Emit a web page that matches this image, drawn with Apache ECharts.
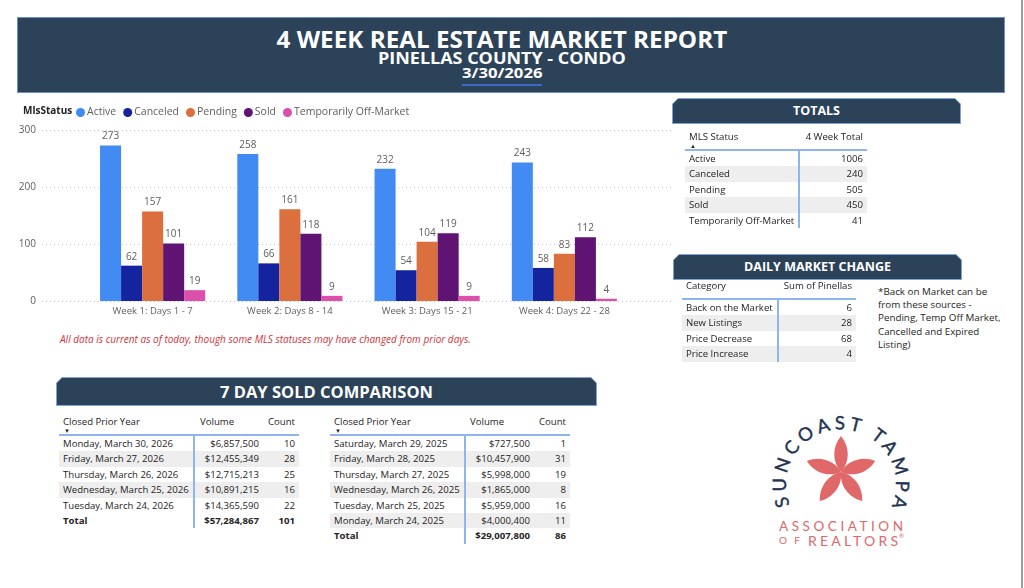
<!DOCTYPE html>
<html>
<head>
<meta charset="utf-8">
<script src="https://cdn.jsdelivr.net/npm/echarts@6/dist/echarts.min.js"></script>
<style>
body { margin: 0; width: 1024px; height: 588px; background: #fff; position: relative; overflow: hidden;
  font-family: "Open Sans", "Noto Sans", sans-serif; color: #252423; }
.abs { position: absolute; }
#edge { left: 1021px; top: 0; width: 2px; height: 588px; background: #9c9c9c; }
#banner { left: 17px; top: 17px; width: 988px; height: 76px; background: #2c4259; border: 1px solid #6b91cc; box-sizing: border-box; }
.btxt { position: absolute; left: 0; width: 1004px; text-align: center; color: #fff; font-weight: 700; white-space: nowrap; line-height: 1; }
.btxt span { display: inline-block; transform-origin: center; }
#dateline { left: 462px; top: 84px; width: 80px; height: 2px; background: #3a6bc4; }
.phead { position: absolute; background: #7fa3d6;
  clip-path: polygon(6px 0, calc(100% - 6px) 0, 100% 6px, 100% 100%, 0 100%, 0 6px); }
.phead div { position: absolute; left: 1px; top: 1px; right: 1px; bottom: 1px; background: #2c4259; color: #fff;
  font-weight: 700; text-align: center; white-space: nowrap;
  clip-path: polygon(5px 0, calc(100% - 5px) 0, 100% 5px, 100% 100%, 0 100%, 0 5px); }
.tbl { position: absolute; font-size: 9.6px; }
.thead { position: relative; border-bottom: 2px solid #8db6ef; box-sizing: border-box; }
.th { position: absolute; top: 0; white-space: nowrap; line-height: 12px; }
.arrow { position: absolute; font-size: 6px; line-height: 6px; }
.tr { position: relative; display: flex; white-space: nowrap; }
.tr.gray { background: #eeeeee; }
.td { box-sizing: border-box; padding: 0 4px; overflow: visible; }
.td.first { border-right: 2px solid #8db6ef; }
.tr.total { font-weight: 700; }
#note { left: 60px; top: 332px; font-size: 10px; font-style: italic; color: #d1343a; white-space: nowrap; }
#side { left: 878px; top: 285px; font-size: 9.8px; line-height: 13.2px; white-space: nowrap; }
</style>
</head>
<body>
<div id="edge" class="abs"></div>
<div id="banner" class="abs"></div>
<div class="btxt" style="top:28px;font-size:23px"><span id="t1">4 WEEK REAL ESTATE MARKET REPORT</span></div>
<div class="btxt" style="top:51px;font-size:15.5px"><span id="t2">PINELLAS COUNTY - CONDO</span></div>
<div class="btxt" style="top:65px;font-size:15px"><span id="t3">3/30/2026</span></div>
<div id="dateline" class="abs"></div>

<div id="chart" class="abs" style="left:0;top:95px;width:680px;height:235px"></div>
<div id="note" class="abs">All data is current as of today, though some MLS statuses may have changed from prior days.</div>

<div class="phead" style="left:672px;top:98px;width:289px;height:26px"><div style="font-size:12.5px;line-height:24px">TOTALS</div></div>
<div class="phead" style="left:673px;top:254px;width:289px;height:26px"><div style="font-size:12.5px;line-height:24px">DAILY MARKET CHANGE</div></div>
<div class="phead" style="left:56px;top:377px;width:541px;height:29px"><div style="font-size:16.5px;line-height:27px">7 DAY SOLD COMPARISON</div></div>

<div id="side" class="abs">*Back on Market can be<br>from these sources -<br>Pending, Temp Off Market,<br>Cancelled and Expired<br>Listing)</div>

<svg class="abs" style="left:760px;top:395px" width="180" height="165" viewBox="0 0 180 165">
  <defs><path id="arc" d="M30,110 A55,55 0 1 1 132,110"></path></defs>
  <g fill="#e06868" transform="translate(81,77)">
    <path d="M0,0 C9,-10 9,-25 0,-36 C-9,-25 -9,-10 0,0 Z" transform="rotate(0)"></path>
    <path d="M0,0 C9,-10 9,-25 0,-36 C-9,-25 -9,-10 0,0 Z" transform="rotate(72)"></path>
    <path d="M0,0 C9,-10 9,-25 0,-36 C-9,-25 -9,-10 0,0 Z" transform="rotate(144)"></path>
    <path d="M0,0 C9,-10 9,-25 0,-36 C-9,-25 -9,-10 0,0 Z" transform="rotate(216)"></path>
    <path d="M0,0 C9,-10 9,-25 0,-36 C-9,-25 -9,-10 0,0 Z" transform="rotate(288)"></path>
  </g>
  <text font-family="Lato, 'Open Sans', sans-serif" font-size="18.5" fill="#1f3352" stroke="#1f3352" stroke-width="0.4">
    <textPath href="#arc" textLength="216" lengthAdjust="spacing">SUNCOAST TAMPA</textPath>
  </text>
  <text x="19" y="136" font-family="Lato, 'Open Sans', sans-serif" font-size="13.5" fill="#e06868" textLength="124" lengthAdjust="spacing">ASSOCIATION</text>
  <text x="19" y="149" font-family="Lato, 'Open Sans', sans-serif" font-size="10" fill="#e06868" textLength="21" lengthAdjust="spacing">OF</text>
  <text x="48" y="151" font-family="Lato, 'Open Sans', sans-serif" font-size="14" fill="#e06868" textLength="90" lengthAdjust="spacing">REALTORS</text>
  <text x="139" y="143" font-family="Lato, 'Open Sans', sans-serif" font-size="6" fill="#e06868">®</text>
</svg>

<script>
// weekly counts by MLS status
var weeks = ['Week 1: Days 1 - 7', 'Week 2: Days 8 - 14', 'Week 3: Days 15 - 21', 'Week 4: Days 22 - 28']
var statuses = ['Active', 'Canceled', 'Pending', 'Sold', 'Temporarily Off-Market']
var colors = ['#418bf3', '#14239e', '#dc6f3e', '#5f1372', '#dc4fac']
var active = [273, 258, 232, 243]
var canceled = [62, 66, 54, 58]
var pending = [157, 161, 104, 83]
var sold = [101, 118, 119, 112]
var tempOff = [19, 9, 9, 4]
var yTicks = [0, 100, 200, 300]

// totals table
var totals = [1006, 240, 505, 450, 41]

// daily market change
var dailyCats = ['Back on the Market', 'New Listings', 'Price Decrease', 'Price Increase']
var dailyVals = [6, 28, 68, 4]

// 7 day sold comparison
var dates2026 = ['Monday, March 30, 2026', 'Friday, March 27, 2026', 'Thursday, March 26, 2026', 'Wednesday, March 25, 2026', 'Tuesday, March 24, 2026']
var volume2026 = ['$6,857,500', '$12,455,349', '$12,715,213', '$10,891,215', '$14,365,590']
var count2026 = [10, 28, 25, 16, 22]
var total2026 = ['$57,284,867', 101]
var dates2025 = ['Saturday, March 29, 2025', 'Friday, March 28, 2025', 'Thursday, March 27, 2025', 'Wednesday, March 26, 2025', 'Tuesday, March 25, 2025', 'Monday, March 24, 2025']
var volume2025 = ['$727,500', '$10,457,900', '$5,998,000', '$1,865,000', '$5,959,000', '$4,000,400']
var count2025 = [1, 31, 19, 8, 16, 11]
var total2025 = ['$29,007,800', 86]

// squeeze banner text to the widths in the report
function fit(id, w) {
  var el = document.getElementById(id)
  el.style.transform = 'scaleX(' + (w / el.offsetWidth) + ')'
}
fit('t1', 451)
fit('t2', 248)
fit('t3', 80)

function table(o) {
  var box = document.createElement('div')
  box.className = 'tbl'
  box.style.left = o.left + 'px'
  box.style.top = o.top + 'px'
  var full = o.widths.reduce(function (a, b) { return a + b }, 0)
  box.style.width = full + 'px'
  var head = document.createElement('div')
  head.className = 'thead'
  head.style.height = o.headH + 'px'
  var x = 0
  o.head.forEach(function (t, i) {
    var c = document.createElement('div')
    c.className = 'th'
    c.textContent = t
    c.style.top = o.headPad + 'px'
    if (o.headAlign[i] === 'right') c.style.right = (full - x - o.widths[i] + 4) + 'px'
    else c.style.left = (x + (o.headLeft ? o.headLeft[i] : 4)) + 'px'
    head.appendChild(c)
    x += o.widths[i]
  })
  var ar = document.createElement('div')
  ar.className = 'arrow'
  ar.textContent = o.arrow
  ar.style.left = '5px'
  ar.style.top = (o.headPad + 12) + 'px'
  head.appendChild(ar)
  box.appendChild(head)
  o.rows.forEach(function (r, ri) {
    var isTotal = o.total && ri === o.rows.length - 1
    var tr = document.createElement('div')
    tr.className = 'tr' + (ri % 2 === 1 && !isTotal ? ' gray' : '') + (isTotal ? ' total' : '')
    tr.style.height = o.rowH + 'px'
    tr.style.lineHeight = o.rowH + 'px'
    r.forEach(function (v, i) {
      var td = document.createElement('div')
      td.className = 'td' + (i === 0 ? ' first' : '')
      td.style.width = o.widths[i] + 'px'
      td.style.textAlign = i === 0 ? 'left' : 'right'
      td.textContent = v
      tr.appendChild(td)
    })
    box.appendChild(tr)
  })
  document.body.appendChild(box)
}

table({
  left: 685, top: 128, headH: 23, headPad: 3, rowH: 15.4, arrow: '\u25B2',
  widths: [115, 67], head: ['MLS Status', '4 Week Total'], headAlign: ['left', 'right'],
  rows: statuses.map(function (s, i) { return [s, totals[i]] })
})
table({
  left: 682, top: 278, headH: 22, headPad: 2, rowH: 15.4, arrow: '',
  widths: [97, 77], head: ['Category', 'Sum of Pinellas'], headAlign: ['left', 'right'],
  rows: dailyCats.map(function (s, i) { return [s, dailyVals[i]] })
})
table({
  left: 59, top: 413, headH: 23, headPad: 3, rowH: 15.4, arrow: '\u25BC', total: true,
  widths: [136, 68, 36], head: ['Closed Prior Year', 'Volume', 'Count'], headAlign: ['left', 'left', 'right'], headLeft: [4, 5, 4],
  rows: dates2026.map(function (d, i) { return [d, volume2026[i], count2026[i]] }).concat([['Total'].concat(total2026)])
})
table({
  left: 330, top: 413, headH: 23, headPad: 3, rowH: 15.4, arrow: '\u25BC', total: true,
  widths: [136, 68, 36], head: ['Closed Prior Year', 'Volume', 'Count'], headAlign: ['left', 'left', 'right'], headLeft: [4, 4, 4],
  rows: dates2025.map(function (d, i) { return [d, volume2025[i], count2025[i]] }).concat([['Total'].concat(total2025)])
})

var seriesData = [active, canceled, pending, sold, tempOff]
var myChart = echarts.init(document.getElementById('chart'))
myChart.setOption({
  animation: false,
  textStyle: { fontFamily: '"Open Sans", "Noto Sans", sans-serif' },
  title: {
    text: 'MlsStatus', left: 18, top: 6,
    textStyle: { fontSize: 10, fontWeight: 'bold', color: '#252423' }
  },
  legend: {
    left: 71, top: 7, icon: 'circle', itemWidth: 9, itemHeight: 9, itemGap: 7,
    textStyle: { fontSize: 10.5, color: '#605e5c', padding: [0, 0, 0, -3] },
    data: statuses
  },
  grid: [
    { left: 42, width: 631, top: 35, height: 171 },
    { left: 84, width: 549, top: 35, height: 171 }
  ],
  xAxis: [
    { type: 'value', gridIndex: 0, show: false },
    {
      type: 'category', gridIndex: 1, data: weeks,
      axisLine: { show: false }, axisTick: { show: false },
      axisLabel: { fontSize: 9.5, color: '#605e5c', margin: 5 }
    }
  ],
  yAxis: [
    {
      type: 'value', gridIndex: 0, min: yTicks[0], max: yTicks[yTicks.length - 1], interval: 100,
      axisLine: { show: false }, axisTick: { show: false },
      axisLabel: { fontSize: 10, color: '#605e5c', margin: 6 },
      splitLine: { lineStyle: { type: [1, 3], color: '#c8c8c8' } }
    },
    { type: 'value', gridIndex: 1, min: 0, max: 300, show: false, splitLine: { show: false } }
  ],
  series: statuses.map(function (s, i) {
    return {
      name: s, type: 'bar', xAxisIndex: 1, yAxisIndex: 1,
      data: seriesData[i], barGap: 0, barCategoryGap: '23.4%',
      itemStyle: { color: colors[i] },
      label: { show: true, position: 'top', distance: 4, fontSize: 10, color: '#605e5c' }
    }
  }),
  color: colors
})
window.addEventListener('resize', function () { myChart.resize() })
</script>
</body>
</html>
